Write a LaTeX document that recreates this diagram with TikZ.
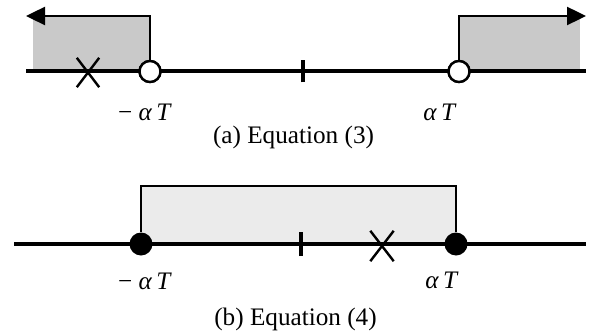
\documentclass[tikz,border=0pt]{standalone}
\usepackage{fontspec}
\setmainfont{Liberation Serif}
\usepackage{tikz}
\usetikzlibrary{arrows.meta, shapes.misc}
\definecolor{shadedark}{HTML}{C9C9C9}
\definecolor{shadelight}{HTML}{EBEBEB}

\begin{document}
\begin{tikzpicture}[
  x=0.5pt, y=-0.5pt,
  axis/.style={line width=2pt, draw=black},
  bound/.style={line width=1.2pt, draw=black},
  arrow/.style={bound, -{Triangle[length=9.5pt, width=9pt]}},
  tick/.style={line width=2pt, draw=black},
  opendot/.style={circle, draw=black, line width=1.2pt, fill=white, minimum size=10.5pt, inner sep=0pt},
  fulldot/.style={circle, fill=black, minimum size=11.5pt, inner sep=0pt},
  xmark/.style={cross out, draw=black, line width=1.2pt, minimum width=10pt, minimum height=13.5pt, inner sep=0pt},
  lbl/.style={anchor=base, font=\fontsize{12.6}{15}\selectfont},
  every node/.append style={}
]
\useasboundingbox (0,0) rectangle (597,331);

% (a)
\coordinate (aL) at (26,71.5);
\coordinate (aR) at (586,71.5);
\coordinate (amtop) at (150,16);
\coordinate (aend) at (26,16);
\coordinate (aptop) at (459,16);
\coordinate (aright) at (586,16);
\fill[shadedark] (33,16) rectangle (150,71.5);
\fill[shadedark] (459,16) rectangle (580,71.5);
\draw[axis] (aL) -- (aR);
\node[opendot] (am) at (150,71.5) {};
\node[opendot] (ap) at (459,71.5) {};
\draw[arrow] (am) -- (amtop) -- (aend);
\draw[arrow] (ap) -- (aptop) -- (aright);
\coordinate (a0) at (303,71.5);
\draw[tick] ([yshift=-5.5pt]a0) -- ([yshift=5.5pt]a0);
\node[xmark] (ax) at (88,72.5) {};
\node[opendot] at (am) {};
\node[opendot] at (ap) {};
\node[lbl] (alm) at (145,120) {− \textit{α}\,\textit{T}};
\node[lbl] (alp) at (440,120) {\textit{α}\,\textit{T}};
\node[lbl] (acap) at (293.5,143) {(a) Equation (3)};

% (b)
\coordinate (bL) at (14,244);
\coordinate (bR) at (586,244);
\coordinate (bmtop) at (141,186);
\coordinate (bptop) at (456,186);
\fill[shadelight] (bmtop) rectangle (456,244);
\draw[axis] (bL) -- (bR);
\node[fulldot] (bm) at (141,244) {};
\node[fulldot] (bp) at (456,244) {};
\draw[bound] (bm) -- (bmtop) -- (bptop) -- (bp);
\coordinate (b0) at (301,244);
\draw[tick] ([yshift=-6pt]b0) -- ([yshift=6pt]b0);
\node[xmark, minimum width=10.5pt, minimum height=14pt] (bx) at (382,246) {};
\node[lbl] (blm) at (145,289) {− \textit{α}\,\textit{T}};
\node[lbl] (blp) at (442,288) {\textit{α}\,\textit{T}};
\node[lbl] (bcap) at (295.5,325) {(b) Equation (4)};
\end{tikzpicture}
\end{document}
